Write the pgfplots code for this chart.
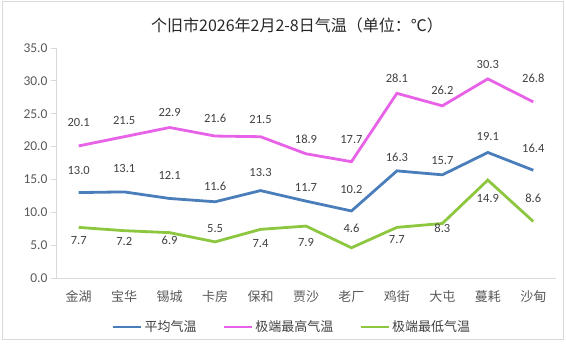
\documentclass[border=0pt]{standalone}
\usepackage{pgfplots}
\pgfplotsset{compat=1.18}
\usepackage{pgfplotstable}
\usepackage{fontspec}
\setmainfont{Carlito}
\newfontfamily\cjk{Noto Sans CJK SC}
\definecolor{cblue}{HTML}{4A7EBB}
\definecolor{cpink}{HTML}{E862E8}
\definecolor{cgreen}{HTML}{8DC63F}
\definecolor{axgray}{HTML}{D9D9D9}
\definecolor{txt}{HTML}{595959}
\definecolor{lab}{HTML}{404040}

\pgfplotstableread{
x y dy
0 13.0 21.6
1 13.1 23
2 12.1 22.5
3 11.6 15
4 13.3 18
5 11.7 13.4
6 10.2 21.7
7 16.3 14
8 15.7 14.6
9 19.1 15.5
10 16.4 21.6
}\avg
\pgfplotstableread{
x y dy
0 20.1 23
1 21.5 16
2 22.9 15
3 21.6 18
4 21.5 17
5 18.9 14.5
6 17.7 21.7
7 28.1 15
8 26.2 15
9 30.3 14.6
10 26.8 23.7
}\high
\pgfplotstableread{
x y dy
0 7.7 -13.6
1 7.2 -10.5
2 6.9 -8
3 5.5 13
4 7.4 -14
5 7.9 -16.6
6 4.6 19.5
7 7.7 -12
8 8.3 -5
9 14.9 -18
10 8.6 23
}\low

\begin{document}
\begin{tikzpicture}
\useasboundingbox (0pt,0pt) rectangle (566pt,344pt);
\draw[axgray, line width=1pt] (2pt,4pt) rectangle (563pt,342pt);
\node[font=\cjk\fontsize{16}{16}\selectfont, text=black!85] at (297pt,319pt) {个旧市2026年2月2-8日气温（单位：℃）};
\begin{axis}[
  at={(56pt,66pt)}, anchor=south west,
  scale only axis, width=500pt, height=230pt,
  xmin=-0.5, xmax=10.5, ymin=0, ymax=35,
  axis x line=bottom, axis y line=left,
  axis line style={axgray, line width=0.8pt, -},
  xtick={0,...,10},
  xticklabels={{\cjk 金湖},{\cjk 宝华},{\cjk 锡城},{\cjk 卡房},{\cjk 保和},{\cjk 贾沙},{\cjk 老厂},{\cjk 鸡街},{\cjk 大屯},{\cjk 蔓耗},{\cjk 沙甸}},
  x tick style={draw=none},
  ytick={0,5,...,35},
  y tick style={axgray, line width=0.8pt},
  tick align=outside, major tick length=5pt,
  /pgf/number format/assume math mode=true,
  yticklabel={\pgfmathprintnumber[fixed,fixed zerofill,precision=1]{\tick}},
  ticklabel style={text=txt},
  y tick label style={font=\fontsize{13.5}{13.5}\selectfont},
  x tick label style={font=\fontsize{13}{13}\selectfont, yshift=-4pt},
  nodes near coords={\pgfmathprintnumber[fixed,fixed zerofill,precision=1]{\pgfplotspointmeta}},
  point meta=explicit,
  visualization depends on={\thisrow{dy} \as \dy},
  every node near coord/.append style={anchor=center, yshift=\dy pt, font=\fontsize{12.5}{12.5}\selectfont, text=lab},
  clip=false,
  legend style={at={(0.472,-0.213)}, anchor=center, draw=none, fill=none,
    legend columns=3, font=\cjk\fontsize{13}{13}\selectfont, text=lab,
    /tikz/every even column/.append style={column sep=24pt}},
  legend image code/.code={\draw[#1, line width=2.8pt] (0pt,0pt) -- (28pt,0pt);},
]
\addplot[cblue, line width=2.8pt, mark=none] table[x=x, y=y, meta=y] {\avg};
\addlegendentry{平均气温}
\addplot[cpink, line width=2.8pt, mark=none] table[x=x, y=y, meta=y] {\high};
\addlegendentry{极端最高气温}
\addplot[cgreen, line width=2.8pt, mark=none] table[x=x, y=y, meta=y] {\low};
\addlegendentry{极端最低气温}
\end{axis}
\end{tikzpicture}
\end{document}
